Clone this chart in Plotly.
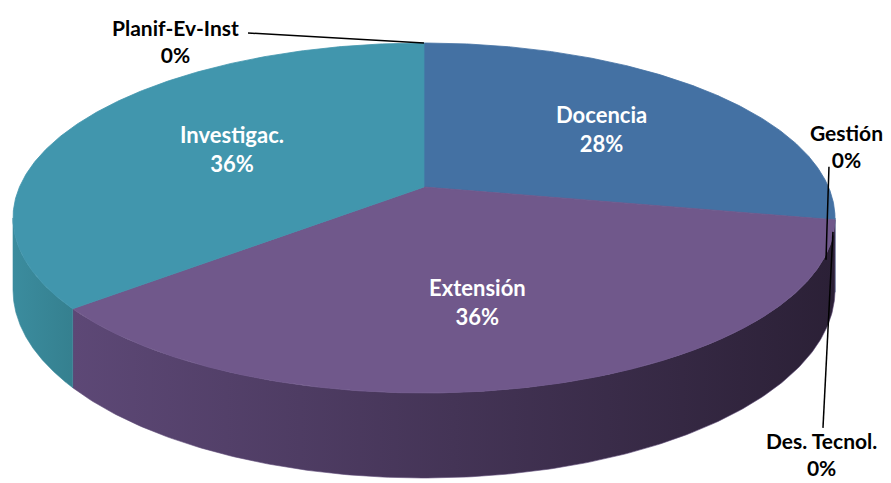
import numpy as np
import plotly.graph_objects as go

# ---------------- data ----------------
categories = ["Docencia", "Gestión", "Des. Tecnol.", "Extensión", "Investigac.", "Planif-Ev-Inst"]
values = [28, 0, 0, 36, 36, 0]

# ---------------- style ----------------
top_colors = {"Docencia": "#4471a3", "Extensión": "#70588b", "Investigac.": "#4196ad"}
side_colors = {
    "Docencia": ("#355a83", "#2c4a6c"),
    "Extensión": ("#5d4876", "#2b2036"),
    "Investigac.": ("#3b8c9e", "#35808f"),
}
W, H = 891, 483
CX, CY = 424.0, 187.0      # projected centre of top face
S = 404.5                  # horizontal scale
C = -169.5                 # vertical scale (depth axis)
K = 0.177                  # perspective factor
DEPTH = 70.0               # side thickness
FONT = "Lato"


def proj(theta, f=1.0, drop=0.0):
    X = f * np.sin(theta)
    Z = f * np.cos(theta)
    w = 1 + K * Z
    return CX + S * X / w, CY + C * Z / w + drop / w


total = float(sum(values))
cum = np.concatenate([[0], np.cumsum(values)]) / total * 2 * np.pi
starts, ends = cum[:-1], cum[1:]

fig = go.Figure()

# side faces (visible front part)
vis_a = np.arccos(-K)
vis_b = 2 * np.pi - vis_a
for name, v, a, b in zip(categories, values, starts, ends):
    if v <= 0:
        continue
    lo, hi = max(a, vis_a), min(b, vis_b)
    if hi <= lo:
        continue
    t = np.linspace(lo, hi, 200)
    xt, yt = proj(t)
    xb, yb = proj(t[::-1], drop=DEPTH)
    xs = np.concatenate([xt, xb, [xt[0]]])
    ys = np.concatenate([yt, yb, [yt[0]]])
    c1, c2 = side_colors[name]
    fig.add_trace(go.Scatter(
        x=xs, y=ys, mode="lines", fill="toself",
        line=dict(width=0.6, color=c1),
        fillgradient=dict(type="horizontal", colorscale=[[0, c1], [1, c2]]),
        hoverinfo="skip", showlegend=False))

# top faces
for name, v, a, b in zip(categories, values, starts, ends):
    if v <= 0:
        continue
    t = np.linspace(a, b, 300)
    xa, ya = proj(t)
    xs = np.concatenate([[CX], xa, [CX]])
    ys = np.concatenate([[CY], ya, [CY]])
    fig.add_trace(go.Scatter(
        x=xs, y=ys, mode="lines", fill="toself", fillcolor=top_colors[name],
        line=dict(width=0.8, color=top_colors[name]),
        hoverinfo="skip", showlegend=False))

# labels
inner_offsets = {"Docencia": (16, -2), "Extensión": (-8, 15), "Investigac.": (1, 0)}
outer_cfg = {
    # label offset from rim anchor, leader start (offset), leader end (offset)
    "Planif-Ev-Inst": ((-249, -2), (-176, -10), (0, 0)),
    "Gestión": ((12, -74), (-6, -53), (-9, 40)),
    "Des. Tecnol.": ((-13, 234), (-12, 208), (-2, 12)),
}
annotations = []
shapes = []
for name, v, a, b in zip(categories, values, starts, ends):
    pct = f"{v / total * 100:.0f}%"
    mid = (a + b) / 2
    if v > 0:
        lx, ly = proj(mid, f=0.55)
        dx, dy = inner_offsets[name]
        annotations.append(dict(
            x=lx + dx, y=ly + dy, text=f"{name}<br>{pct}", showarrow=False,
            xanchor="center", yanchor="middle", align="center",
            font=dict(family=FONT, size=22, color="white", weight="bold")))
    else:
        ax, ay = proj(mid)
        (ox, oy), (s0x, s0y), (s1x, s1y) = outer_cfg[name]
        annotations.append(dict(
            x=ax + ox, y=ay + oy, text=f"{name}<br>{pct}", showarrow=False,
            xanchor="center", yanchor="middle", align="center",
            font=dict(family=FONT, size=21, color="black", weight="bold")))
        shapes.append(dict(type="line", x0=ax + s0x, y0=ay + s0y, x1=ax + s1x, y1=ay + s1y,
                           line=dict(color="black", width=1.5), layer="above"))

fig.update_layout(
    width=W, height=H, autosize=False,
    margin=dict(l=0, r=0, t=0, b=0),
    paper_bgcolor="white", plot_bgcolor="white",
    xaxis=dict(range=[0, W], visible=False, fixedrange=True),
    yaxis=dict(range=[H, 0], visible=False, fixedrange=True),
    annotations=annotations, shapes=shapes, showlegend=False,
)
fig.write_html("out.html")
